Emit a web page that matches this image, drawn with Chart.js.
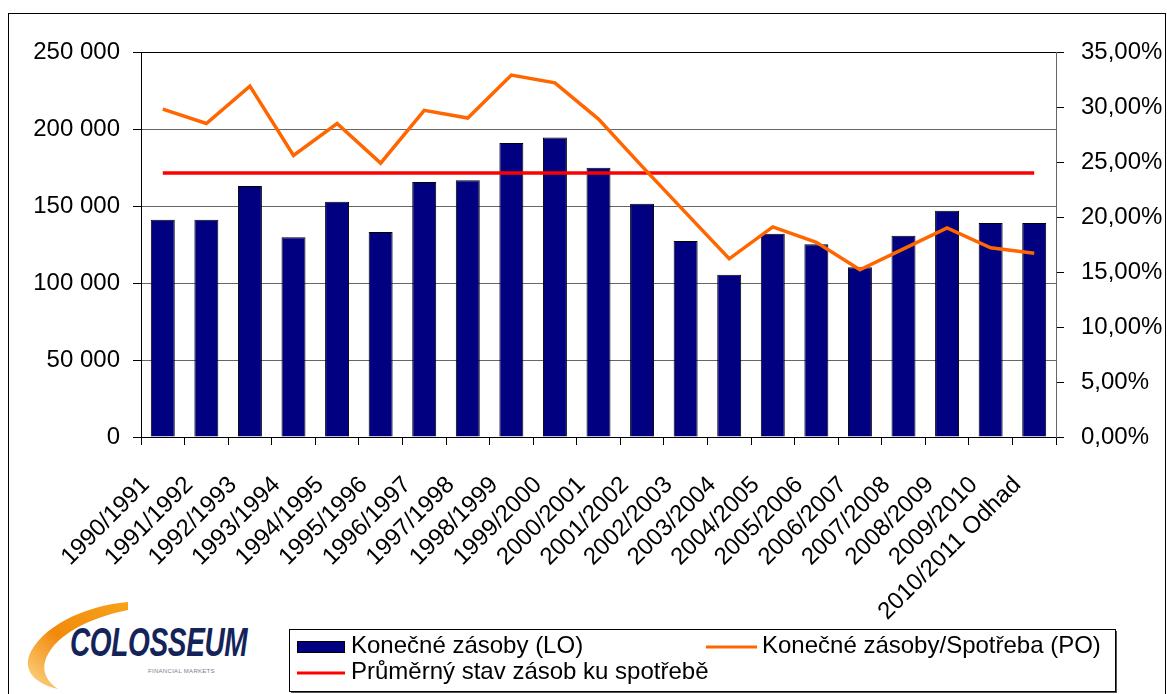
<!DOCTYPE html>
<html>
<head>
<meta charset="utf-8">
<script src="https://cdn.jsdelivr.net/npm/chart.js@4"></script>
<style>
  html, body { margin: 0; padding: 0; background: #fff; width: 1167px; height: 694px; overflow: hidden; }
  #frame { position: absolute; left: 8px; top: 13px; width: 1158px; height: 700px; border: 1px solid #000; box-sizing: border-box; }
  #wrap { position: absolute; left: 0; top: 0; width: 1167px; height: 694px; }
  #logo { position: absolute; left: 20px; top: 592px; width: 250px; height: 100px; }
  #logo .name { position: absolute; left: 50px; top: 28px; font: italic bold 40px "Liberation Sans", Arial, sans-serif; color: #14245a; transform: scaleX(0.70); transform-origin: left top; letter-spacing: -0.5px; }
  #logo .sub { position: absolute; left: 128px; top: 76px; font: 6px "Liberation Sans", Arial, sans-serif; color: #7a8090; letter-spacing: 0.3px; }
</style>
</head>
<body>
<div id="frame"></div>
<div id="logo">
  <svg width="140" height="100" style="position:absolute;left:0;top:0">
    <defs>
      <linearGradient id="sw" x1="1" y1="0" x2="0" y2="1">
        <stop offset="0" stop-color="#f7a21b"/>
        <stop offset="0.55" stop-color="#f28a0c"/>
        <stop offset="1" stop-color="#fcd98c"/>
      </linearGradient>
    </defs>
    <path d="M108 10 C 62 14, 20 36, 9 64 C 4 80, 16 92, 38 97 C 22 86, 20 72, 32 56 C 48 36, 78 24, 108 18 Z" fill="url(#sw)"/>
  </svg>
  <div class="name">COLOSSEUM</div>
  <div class="sub">FINANCIAL MARKETS</div>
</div>
<div id="wrap"><canvas id="c" width="1167" height="694"></canvas></div>
<script>
const categories = ['1990/1991','1991/1992','1992/1993','1993/1994','1994/1995','1995/1996','1996/1997','1997/1998','1998/1999','1999/2000','2000/2001','2001/2002','2002/2003','2003/2004','2004/2005','2005/2006','2006/2007','2007/2008','2008/2009','2009/2010','2010/2011 Odhad'];
const endingStocks = [141000,141000,163000,129700,152800,133100,165600,166700,190900,194400,174900,151500,127300,105400,132000,125100,110200,130700,146900,139000,139000];
const stocksToUse = [29.8,28.5,31.9,25.6,28.5,24.9,29.7,29.0,32.9,32.2,28.9,24.6,20.4,16.2,19.1,17.7,15.2,17.1,19.0,17.2,16.7];
const averageStocksToUse = [24,24,24,24,24,24,24,24,24,24,24,24,24,24,24,24,24,24,24,24,24];
const seriesLabels = ['Konečné zásoby (LO)', 'Konečné zásoby/Spotřeba (PO)', 'Průměrný stav zásob ku spotřebě'];
const leftAxisMax = 250000, leftAxisStep = 50000;
const rightAxisMax = 35, rightAxisStep = 5;

const FONT = '"Liberation Sans", Arial, sans-serif';

function fmtThousands(v) {
  return String(v).replace(/\B(?=(\d{3})+(?!\d))/g, ' ');
}
function fmtPct(v) {
  return v.toFixed(2).replace('.', ',') + '%';
}

const legendPlugin = {
  id: 'boxLegend',
  afterDraw(chart) {
    const ctx = chart.ctx;
    const ds = chart.data.datasets;
    ctx.save();
    ctx.fillStyle = '#555';
    ctx.fillRect(291, 691, 825, 2);
    ctx.fillRect(1115, 631, 2, 62);
    ctx.fillStyle = '#fff';
    ctx.fillRect(289, 629, 826, 62);
    ctx.strokeStyle = '#000';
    ctx.lineWidth = 1;
    ctx.strokeRect(289.5, 629.5, 826, 62);
    ctx.font = '24px ' + FONT;
    ctx.textBaseline = 'alphabetic';
    ctx.textAlign = 'left';
    ctx.fillStyle = ds[0].backgroundColor;
    ctx.fillRect(297, 641, 48, 12);
    ctx.strokeStyle = '#000';
    ctx.strokeRect(297.5, 641.5, 47, 11);
    ctx.fillStyle = '#000';
    ctx.fillText(ds[0].label, 351, 653);
    ctx.strokeStyle = ds[1].borderColor;
    ctx.lineWidth = 3;
    ctx.beginPath(); ctx.moveTo(706, 647); ctx.lineTo(757, 647); ctx.stroke();
    ctx.fillText(ds[1].label, 762, 653);
    ctx.strokeStyle = ds[2].borderColor;
    ctx.beginPath(); ctx.moveTo(297, 673); ctx.lineTo(345, 673); ctx.stroke();
    ctx.fillText(ds[2].label, 351, 679);
    ctx.restore();
  }
};

new Chart(document.getElementById('c'), {
  type: 'bar',
  data: {
    labels: categories,
    datasets: [
      {
        type: 'bar',
        label: seriesLabels[0],
        data: endingStocks,
        yAxisID: 'y',
        backgroundColor: '#000080',
        borderColor: '#000',
        borderWidth: 1,
        categoryPercentage: 1,
        barPercentage: 0.55,
        order: 3
      },
      {
        type: 'line',
        label: seriesLabels[1],
        data: stocksToUse,
        yAxisID: 'y1',
        borderColor: '#ff6600',
        backgroundColor: '#ff6600',
        borderWidth: 3.5,
        pointRadius: 0,
        tension: 0,
        fill: false,
        order: 1
      },
      {
        type: 'line',
        label: seriesLabels[2],
        data: averageStocksToUse,
        yAxisID: 'y1',
        borderColor: '#ff0000',
        backgroundColor: '#ff0000',
        borderWidth: 3.5,
        pointRadius: 0,
        tension: 0,
        fill: false,
        order: 2
      }
    ]
  },
  options: {
    responsive: false,
    animation: false,
    devicePixelRatio: 1,
    layout: { padding: { top: 52, left: 0, right: 0, bottom: 0 } },
    plugins: {
      legend: { display: false },
      tooltip: { enabled: false },
      title: { display: false }
    },
    scales: {
      x: {
        offset: true,
        afterFit(s) { s.height = 694 - 437; },
        grid: { display: true, drawOnChartArea: false, offset: true, tickLength: 8, color: '#000', tickColor: '#000' },
        border: { display: true, color: '#000', width: 1 },
        ticks: {
          autoSkip: false,
          maxRotation: 45,
          minRotation: 45,
          padding: 26,
          labelOffset: -17,
          color: '#000',
          font: { family: FONT, size: 24 }
        }
      },
      y: {
        position: 'left',
        min: 0,
        max: leftAxisMax,
        afterFit(s) { s.width = 141; },
        grid: {
          drawOnChartArea: true,
          tickLength: 8,
          color: (c) => (c.tick && c.tick.value === leftAxisMax) ? '#000' : '#666',
          tickColor: '#000',
          lineWidth: 1
        },
        border: { display: true, color: '#000', width: 1 },
        ticks: {
          stepSize: leftAxisStep,
          padding: 13,
          color: '#000',
          font: { family: FONT, size: 24 },
          callback: (v) => fmtThousands(v)
        }
      },
      y1: {
        position: 'right',
        min: 0,
        max: rightAxisMax,
        afterFit(s) { s.width = 1167 - 1056; },
        grid: { drawOnChartArea: false, tickLength: 8, color: '#555', tickColor: '#000' },
        border: { display: true, color: '#666', width: 1 },
        ticks: {
          stepSize: rightAxisStep,
          padding: 17,
          color: '#000',
          font: { family: FONT, size: 24 },
          callback: (v) => fmtPct(v)
        }
      }
    }
  },
  plugins: [legendPlugin]
});
</script>
</body>
</html>
